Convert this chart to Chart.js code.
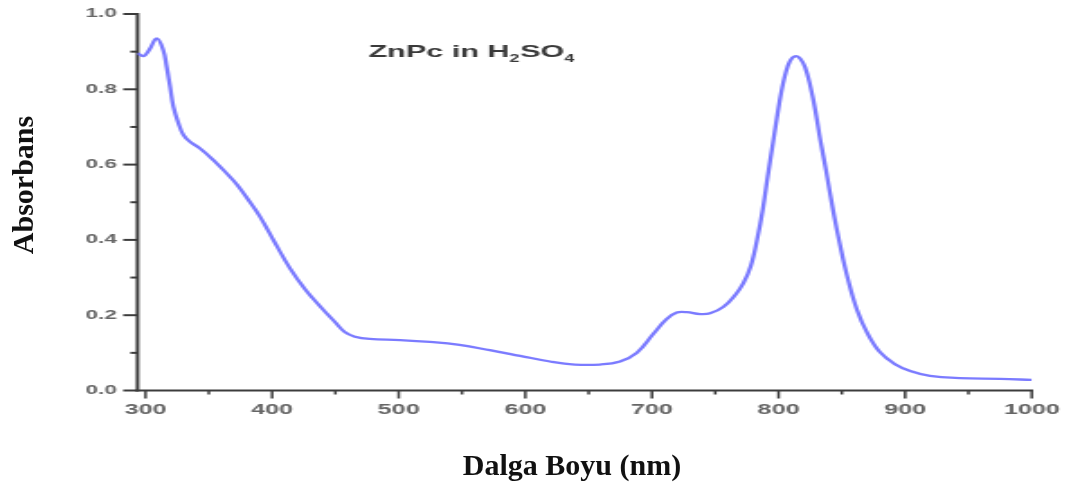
<!DOCTYPE html>
<html>
<head>
<meta charset="utf-8">
<script src="https://cdn.jsdelivr.net/npm/chart.js@4.4.1/dist/chart.umd.min.js"></script>
<style>
  html, body { margin: 0; padding: 0; background: #fff; }
  #page { position: relative; width: 1071px; height: 492px; overflow: hidden; background: #fff; }
  /* The plot is laid out narrow and widened horizontally, as in the original Origin graph */
  #plotWrap { position: absolute; left: 0; top: 0; width: 595px; height: 492px;
              transform: scaleX(1.8); transform-origin: 0 0; }
  #plot { display: block; width: 595px; height: 492px; }
  .axis-title { position: absolute; font-family: "Liberation Serif", "Times New Roman", serif;
                font-weight: bold; font-size: 30px; line-height: 30px; height: 30px;
                color: #111; text-align: center; white-space: nowrap; }
  #yTitle { left: -77px; top: 170px; width: 200px; transform: rotate(-90deg); }
  #xTitle { left: 422px; top: 450px; width: 300px; }
</style>
</head>
<body>
<div id="page">
  <div id="plotWrap"><canvas id="plot" width="595" height="492"></canvas></div>
  <div class="axis-title" id="yTitle">Absorbans</div>
  <div class="axis-title" id="xTitle">Dalga Boyu (nm)</div>
</div>
<script>
// UV-Vis absorption spectrum of ZnPc in H2SO4
const wavelength = [293.7, 298.3, 303, 308.8, 314, 316.7, 319.4, 322, 326, 329.9,
  335, 343, 353.6, 364, 372, 380, 390.4, 402.3, 414, 426,
  437.8, 449.6, 457.5, 465.4, 477, 501, 524.6, 548, 572, 595.8,
  619.5, 639, 659, 674.8, 688, 701, 711.7, 719.6, 727.5, 738,
  745.9, 756.4, 765.6, 772.2, 778, 783, 787.5, 791.5, 795, 798.5,
  802, 805.5, 809, 813, 817, 821, 825, 829, 833, 837.5,
  843, 848.6, 855, 862, 870, 880, 892, 904, 919.6, 943, 975, 1000];
const absorbance = [0.896, 0.888, 0.905, 0.935, 0.904, 0.86, 0.807, 0.754, 0.71, 0.679,
  0.661, 0.643, 0.612, 0.577, 0.548, 0.512, 0.462, 0.392, 0.325, 0.269,
  0.224, 0.182, 0.155, 0.143, 0.137, 0.134, 0.129, 0.121, 0.107, 0.092,
  0.077, 0.069, 0.069, 0.077, 0.1, 0.15, 0.19, 0.207, 0.208, 0.203,
  0.205, 0.222, 0.253, 0.285, 0.33, 0.40, 0.48, 0.57, 0.645, 0.72,
  0.79, 0.842, 0.875, 0.888, 0.882, 0.858, 0.81, 0.745, 0.665, 0.585,
  0.48, 0.386, 0.293, 0.214, 0.153, 0.102, 0.07, 0.052, 0.039, 0.033, 0.031, 0.028];

// Tick positions (major ticks carry labels, minor ticks sit between them)
const xTickValues = [300, 350, 400, 450, 500, 550, 600, 650, 700, 750, 800, 850, 900, 950, 1000];
const yTickValues = [0, 0.1, 0.2, 0.3, 0.4, 0.5, 0.6, 0.7, 0.8, 0.9, 1.0];

const sampleLabel = { parts: [
  { text: 'ZnPc in H', sub: false },
  { text: '2', sub: true },
  { text: 'SO', sub: false },
  { text: '4', sub: true }
], x: 476, y: 0.886 };

const axisColor = '#3c3c3c';
const tickTextColor = '#666666';

const isMajorX = v => Math.round(v) % 100 === 0;
const isMajorY = v => Math.round(v * 10) % 2 === 0;

// Draws the two axis lines with long major and short minor tick marks
const axesPlugin = {
  id: 'originAxes',
  beforeDatasetsDraw(chart) {
    const { ctx, chartArea: a, scales: { x, y } } = chart;
    ctx.save();
    ctx.strokeStyle = axisColor;
    ctx.lineCap = 'butt';
    // y axis
    ctx.lineWidth = 2;
    ctx.beginPath();
    ctx.moveTo(a.left, y.getPixelForValue(1.0) - 1);
    ctx.lineTo(a.left, a.bottom + 1);
    ctx.stroke();
    // x axis
    ctx.beginPath();
    ctx.moveTo(a.left - 1, a.bottom);
    ctx.lineTo(x.getPixelForValue(1000) + 0.8, a.bottom);
    ctx.stroke();
    // y ticks
    y.ticks.forEach(t => {
      const py = y.getPixelForValue(t.value);
      const len = isMajorY(t.value) ? 8 : 4;
      ctx.lineWidth = 2;
      ctx.beginPath();
      ctx.moveTo(a.left, py);
      ctx.lineTo(a.left - len, py);
      ctx.stroke();
    });
    // x ticks
    x.ticks.forEach(t => {
      const px = x.getPixelForValue(t.value);
      const len = isMajorX(t.value) ? 8 : 4;
      ctx.lineWidth = 1.5;
      ctx.beginPath();
      ctx.moveTo(px, a.bottom);
      ctx.lineTo(px, a.bottom + len);
      ctx.stroke();
    });
    ctx.restore();
  },
  afterDraw(chart) {
    const { ctx, scales: { x, y } } = chart;
    let px = x.getPixelForValue(sampleLabel.x);
    const py = y.getPixelForValue(sampleLabel.y);
    ctx.save();
    ctx.fillStyle = '#3a3a3a';
    ctx.textBaseline = 'alphabetic';
    ctx.textAlign = 'left';
    sampleLabel.parts.forEach(p => {
      ctx.font = p.sub ? 'bold 10px "Liberation Sans", Arial, sans-serif'
                       : 'bold 17px "Liberation Sans", Arial, sans-serif';
      ctx.fillText(p.text, px, p.sub ? py + 5 : py);
      px += ctx.measureText(p.text).width + (p.sub ? 0.3 : 0);
    });
    ctx.restore();
  }
};

new Chart(document.getElementById('plot'), {
  type: 'line',
  data: {
    datasets: [{
      data: wavelength.map((w, i) => ({ x: w, y: absorbance[i] })),
      borderColor: '#7b7bff',
      borderWidth: 2.3,
      pointRadius: 0,
      fill: false,
      tension: 0.4
    }]
  },
  options: {
    responsive: false,
    animation: false,
    devicePixelRatio: 1,
    layout: { padding: { left: 0, right: 21.8, top: 14, bottom: 71.5 } },
    plugins: { legend: { display: false }, tooltip: { enabled: false } },
    scales: {
      x: {
        type: 'linear',
        min: 293.7,
        max: 1000,
        afterBuildTicks: s => { s.ticks = xTickValues.map(v => ({ value: v })); },
        afterFit: s => { s.height = 30; },
        grid: { display: false, drawTicks: true, tickLength: 8 },
        border: { display: false },
        ticks: {
          autoSkip: false, maxRotation: 0, minRotation: 0, padding: 3,
          color: tickTextColor,
          font: { family: '"Liberation Sans", Arial, sans-serif', size: 14, weight: 'bold' },
          callback: v => isMajorX(v) ? String(Math.round(v)) : ''
        }
      },
      y: {
        min: 0,
        max: 1,
        afterBuildTicks: s => { s.ticks = yTickValues.map(v => ({ value: v })); },
        afterFit: s => { s.width = 76.4; },
        grid: { display: false, drawTicks: true, tickLength: 8 },
        border: { display: false },
        ticks: {
          autoSkip: false, padding: 3.4,
          color: tickTextColor,
          font: { family: '"Liberation Sans", Arial, sans-serif', size: 12.5, weight: 'bold' },
          callback: v => isMajorY(v) ? v.toFixed(1) : ''
        }
      }
    }
  },
  plugins: [axesPlugin]
});
</script>
</body>
</html>
